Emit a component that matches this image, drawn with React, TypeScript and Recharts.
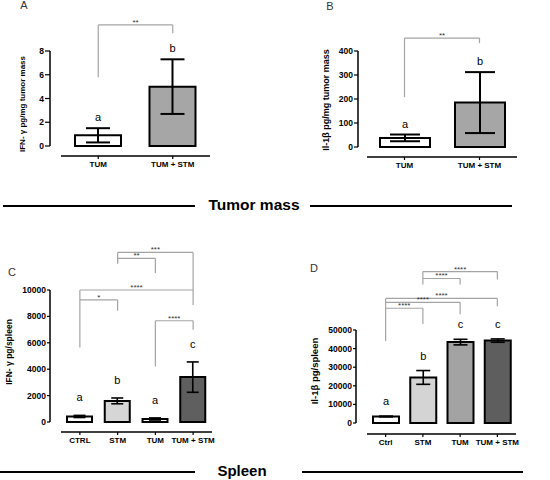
import React from "react";
import {
  BarChart,
  Bar,
  XAxis,
  YAxis,
  Cell,
  ErrorBar,
  LabelList,
  ReferenceLine,
} from "recharts";

const FONT = '"Liberation Sans", Arial, Helvetica, sans-serif';

// A: IFN-γ in tumor mass
const tumorGroups = ["TUM", "TUM + STM"];
const ifnTumor = [0.9, 5.0];
const ifnTumorErr = [0.6, 2.3];
const ifnTumorLetters = ["a", "b"];
const ifnTumorTicks = [0, 2, 4, 6, 8];

// B: Il-1β in tumor mass
const il1Tumor = [38, 185];
const il1TumorErr = [14, 127];
const il1TumorLetters = ["a", "b"];
const il1TumorTicks = [0, 100, 200, 300, 400];

// C: IFN-γ in spleen
const spleenGroupsC = ["CTRL", "STM", "TUM", "TUM + STM"];
const ifnSpleen = [420, 1600, 230, 3400];
const ifnSpleenErr = [80, 220, 80, 1150];
const ifnSpleenLetters = ["a", "b", "a", "c"];
const ifnSpleenTicks = [0, 2000, 4000, 6000, 8000, 10000];

// D: Il-1β in spleen
const spleenGroupsD = ["Ctrl", "STM", "TUM", "TUM + STM"];
const il1Spleen = [3500, 24500, 43500, 44300];
const il1SpleenErr = [200, 3700, 1500, 900];
const il1SpleenLetters = ["a", "b", "c", "c"];
const il1SpleenTicks = [0, 10000, 20000, 30000, 40000, 50000];

// significance brackets (y in data units: top bar, bottom of left leg, bottom of right leg)
type Bracket = { from: string; to: string; top: number; left: number; right: number; stars: string };

const ifnTumorBrackets: Bracket[] = [
  { from: "TUM", to: "TUM + STM", top: 10.2, left: 5.8, right: 9.5, stars: "**" },
];
const il1TumorBrackets: Bracket[] = [
  { from: "TUM", to: "TUM + STM", top: 454, left: 208, right: 433, stars: "**" },
];
const ifnSpleenBrackets: Bracket[] = [
  { from: "STM", to: "TUM + STM", top: 12850, left: 12000, right: 10000, stars: "***" },
  { from: "STM", to: "TUM", top: 12400, left: 12000, right: 11280, stars: "**" },
  { from: "CTRL", to: "TUM + STM", top: 10000, left: 5640, right: 8870, stars: "****" },
  { from: "CTRL", to: "STM", top: 9250, left: 9250, right: 8420, stars: "*" },
  { from: "TUM", to: "TUM + STM", top: 7670, left: 4210, right: 6990, stars: "****" },
];
const il1SpleenBrackets: Bracket[] = [
  { from: "STM", to: "TUM + STM", top: 81400, left: 74500, right: 77100, stars: "****" },
  { from: "STM", to: "TUM", top: 77700, left: 77700, right: 74500, stars: "****" },
  { from: "Ctrl", to: "TUM + STM", top: 67000, left: 44100, right: 62800, stars: "****" },
  { from: "Ctrl", to: "TUM", top: 64900, left: 64900, right: 58500, stars: "****" },
  { from: "Ctrl", to: "STM", top: 61700, left: 61700, right: 53200, stars: "****" },
];

const BRACKET = "#a4a4a4";

function Panel(props: any) {
  const {
    groups, values, errors, letters, ticks, fills, brackets,
    left, top, width, height, margin, yWidth, xHeight,
    xPad, yPad, barSize, cap, gap, errStroke, tickLen,
  } = props;
  const data = groups.map((g: string, i: number) => ({
    group: g,
    value: values[i],
    err: errors[i],
    letter: letters[i],
  }));
  const plotW = width - margin.left - margin.right - yWidth;
  const plotH = height - margin.top - margin.bottom - xHeight;

  const letterLabel = (p: any) => {
    const { x, y, width: w, height: h, value, index } = p;
    const perUnit = Math.abs(Number(h)) / values[index];
    const yTop = Math.min(Number(y), Number(y) + Number(h)) - errors[index] * perUnit - gap;
    return (
      <text x={Number(x) + Number(w) / 2} y={yTop} textAnchor="middle" fontSize={11} fontFamily={FONT} fill="#000" stroke="none">
        {value}
      </text>
    );
  };

  const lines: any[] = [];
  brackets.forEach((b: Bracket, i: number) => {
    lines.push(
      <ReferenceLine
        key={`h${i}`}
        segment={[{ x: b.from, y: b.top }, { x: b.to, y: b.top }]}
        stroke={BRACKET}
        strokeWidth={1.2}
        ifOverflow="visible"
        label={{ value: b.stars, position: "top", offset: 0, fontSize: 8, fill: "#333", fontFamily: FONT }}
      />,
      <ReferenceLine
        key={`l${i}`}
        segment={[{ x: b.from, y: b.top }, { x: b.from, y: b.left }]}
        stroke={BRACKET}
        strokeWidth={1.2}
        ifOverflow="visible"
      />,
      <ReferenceLine
        key={`r${i}`}
        segment={[{ x: b.to, y: b.top }, { x: b.to, y: b.right }]}
        stroke={BRACKET}
        strokeWidth={1.2}
        ifOverflow="visible"
      />
    );
  });

  return (
    <div style={{ position: "absolute", left, top }}>
      <BarChart width={width} height={height} data={data} margin={margin}>
        <XAxis
          dataKey="group"
          height={xHeight}
          interval={0}
          padding={{ left: xPad, right: 0 }}
          tickSize={3}
          tickMargin={2}
          tick={{ fontSize: 8, fontWeight: 700, fill: "#000", fontFamily: FONT }}
          tickLine={{ stroke: "#000", strokeWidth: 1.2 }}
          axisLine={{ stroke: "#000", strokeWidth: 1.5, strokeDasharray: `0 ${xPad} ${plotW - xPad} 40` }}
        />
        <YAxis
          width={yWidth}
          domain={[0, ticks[ticks.length - 1]]}
          ticks={ticks}
          interval={0}
          padding={{ top: 0, bottom: yPad }}
          tickSize={tickLen}
          tickMargin={1}
          tick={{ fontSize: 8.5, fontWeight: 700, fill: "#000", fontFamily: FONT }}
          tickLine={{ stroke: "#000", strokeWidth: 1.2 }}
          axisLine={{ stroke: "#000", strokeWidth: 1.5, strokeDasharray: `${plotH - yPad} 40` }}
        />
        <Bar dataKey="value" barSize={barSize} stroke="#000" strokeWidth={2} isAnimationActive={false}>
          {data.map((_: any, i: number) => (
            <Cell key={i} fill={fills[i]} />
          ))}
          <ErrorBar dataKey="err" width={cap} stroke="#000" strokeWidth={errStroke} isAnimationActive={false} />
          <LabelList dataKey="letter" content={letterLabel} />
        </Bar>
        {lines}
      </BarChart>
    </div>
  );
}

function Title({ x, y, text, size }: { x: number; y: number; text: string; size: number }) {
  return (
    <text
      x={x}
      y={y}
      transform={`rotate(-90 ${x} ${y})`}
      textAnchor="middle"
      dominantBaseline="middle"
      fontSize={size}
      fontWeight={700}
      fontFamily={FONT}
      fill="#000"
    >
      {text}
    </text>
  );
}

export default function App() {
  return (
    <div style={{ position: "absolute", left: 0, top: 0, width: 550, height: 480, background: "#fff", overflow: "hidden" }}>
      <Panel
        groups={tumorGroups} values={ifnTumor} errors={ifnTumorErr} letters={ifnTumorLetters}
        ticks={ifnTumorTicks} fills={["#ffffff", "#a6a6a6"]} brackets={ifnTumorBrackets}
        left={0} top={0} width={275} height={200}
        margin={{ top: 51, right: 65, bottom: 14, left: 0 }} yWidth={50} xHeight={30}
        xPad={11} yPad={10} barSize={46} cap={12} gap={7} errStroke={2} tickLen={5}
      />
      <Panel
        groups={tumorGroups} values={il1Tumor} errors={il1TumorErr} letters={il1TumorLetters}
        ticks={il1TumorTicks} fills={["#ffffff", "#a6a6a6"]} brackets={il1TumorBrackets}
        left={275} top={0} width={275} height={200}
        margin={{ top: 51, right: 33, bottom: 13, left: 0 }} yWidth={83} xHeight={30}
        xPad={9} yPad={10} barSize={50} cap={15} gap={7} errStroke={2} tickLen={4}
      />
      <Panel
        groups={spleenGroupsC} values={ifnSpleen} errors={ifnSpleenErr} letters={ifnSpleenLetters}
        ticks={ifnSpleenTicks} fills={["#ffffff", "#d6d6d6", "#ffffff", "#5f5f5f"]} brackets={ifnSpleenBrackets}
        left={0} top={230} width={275} height={220}
        margin={{ top: 60, right: 63, bottom: 2, left: 0 }} yWidth={50} xHeight={16}
        xPad={11} yPad={10} barSize={25} cap={6} gap={14} errStroke={1.6} tickLen={3}
      />
      <Panel
        groups={spleenGroupsD} values={il1Spleen} errors={il1SpleenErr} letters={il1SpleenLetters}
        ticks={il1SpleenTicks} fills={["#ffffff", "#d4d4d4", "#a3a3a3", "#5e5e5e"]} brackets={il1SpleenBrackets}
        left={275} top={230} width={275} height={220}
        margin={{ top: 100, right: 34, bottom: 1, left: 0 }} yWidth={81} xHeight={15}
        xPad={11} yPad={11} barSize={26} cap={7} gap={11} errStroke={1.6} tickLen={3}
      />
      <svg width={550} height={480} style={{ position: "absolute", left: 0, top: 0, pointerEvents: "none" }}>
        <g fontFamily={FONT} fontSize={11} fill="#333">
          <text x={24} y={9} textAnchor="middle">A</text>
          <text x={330} y={10} textAnchor="middle">B</text>
          <text x={12} y={276} textAnchor="middle">C</text>
          <text x={314} y={272} textAnchor="middle">D</text>
        </g>
        <Title x={23} y={104} text="IFN- γ pg/mg tumor mass" size={8} />
        <Title x={327} y={100} text="Il-1β pg/mg tumor mass" size={9} />
        <Title x={10} y={352} text="IFN- γ pg/spleen" size={8.5} />
        <Title x={315} y={371} text="Il-1β pg/spleen" size={9.5} />

        <line x1={3} y1={206} x2={195} y2={206} stroke="#000" strokeWidth={2} />
        <line x1={310} y1={206} x2={512} y2={206} stroke="#000" strokeWidth={2} />
        <text x={254} y={206} textAnchor="middle" dominantBaseline="middle" fontSize={15.5} fontWeight={700} fontFamily={FONT}>
          Tumor mass
        </text>
        <line x1={0} y1={472} x2={195} y2={472} stroke="#000" strokeWidth={2} />
        <line x1={302} y1={472} x2={523} y2={472} stroke="#000" strokeWidth={2} />
        <text x={242} y={472} textAnchor="middle" dominantBaseline="middle" fontSize={15} fontWeight={700} fontFamily={FONT}>
          Spleen
        </text>
      </svg>
    </div>
  );
}
